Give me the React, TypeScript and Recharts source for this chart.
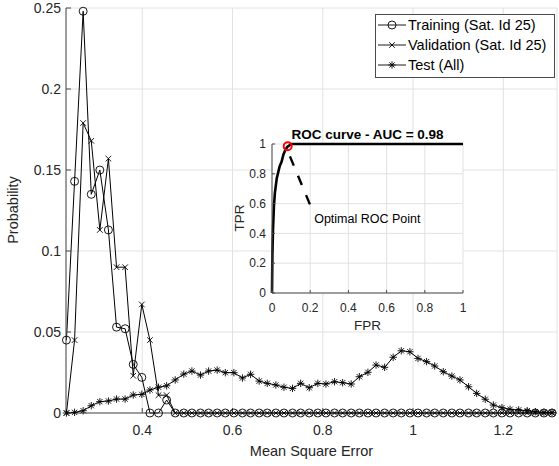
import React from "react";
import {
  LineChart,
  Line,
  XAxis,
  YAxis,
  CartesianGrid,
  Legend,
  Label,
  ReferenceLine,
  ReferenceDot,
  Customized,
} from "recharts";

// histogram bins (mean square error)
const mse = [
  0.232, 0.25, 0.269, 0.287, 0.306, 0.325, 0.343, 0.362, 0.38, 0.399,
  0.417, 0.436, 0.454, 0.473, 0.492, 0.51, 0.529, 0.547, 0.566, 0.584,
  0.603, 0.622, 0.64, 0.659, 0.677, 0.696, 0.714, 0.733, 0.751, 0.77,
  0.789, 0.807, 0.826, 0.844, 0.863, 0.881, 0.9, 0.918, 0.937, 0.956,
  0.974, 0.993, 1.011, 1.03, 1.048, 1.067, 1.086, 1.104, 1.123, 1.141,
  1.16, 1.178, 1.197, 1.215, 1.234, 1.253, 1.271, 1.29, 1.308,
];

const trainProb = [
  0.045, 0.143, 0.248, 0.135, 0.15, 0.113, 0.053, 0.052, 0.03, 0.022,
  0, 0, 0.008, 0, 0, 0, 0, 0, 0, 0,
  0, 0, 0, 0, 0, 0, 0, 0, 0, 0,
  0, 0, 0, 0, 0, 0, 0, 0, 0, 0,
  0, 0, 0, 0, 0, 0, 0, 0, 0, 0,
  0, 0, 0, 0, 0, 0, 0, 0, 0,
];

const valProb = [
  0, 0.045, 0.179, 0.168, 0.113, 0.157, 0.09, 0.09, 0.023, 0.067,
  0.045, 0.011, 0.011, 0, 0, 0, 0, 0, 0, 0,
  0, 0, 0, 0, 0, 0, 0, 0, 0, 0,
  0, 0, 0, 0, 0, 0, 0, 0, 0, 0,
  0, 0, 0, 0, 0, 0, 0, 0, 0, 0,
  0, 0, 0, 0, 0, 0, 0, 0, 0,
];

const testProb = [
  0, 0.0004, 0.0014, 0.0045, 0.007, 0.0074, 0.0086, 0.0086, 0.0111, 0.0115,
  0.0142, 0.0159, 0.0168, 0.0204, 0.024, 0.0259, 0.0234, 0.0259, 0.0265, 0.0249,
  0.0249, 0.0216, 0.0239, 0.0197, 0.0183, 0.0173, 0.0159, 0.0152, 0.0183, 0.0156,
  0.0183, 0.0179, 0.0193, 0.0187, 0.0179, 0.0224, 0.0251, 0.0296, 0.0282, 0.0344,
  0.0384, 0.0378, 0.0337, 0.0317, 0.029, 0.0255, 0.0228, 0.0204, 0.0162, 0.0121,
  0.0085, 0.0049, 0.0033, 0.0023, 0.0019, 0.0014, 0.0008, 0.0004, 0.0004,
];

const xTicks = [0.4, 0.6, 0.8, 1, 1.2];
const yTicks = [0, 0.05, 0.1, 0.15, 0.2, 0.25];
const xLimits = [0.231, 1.319];
const yLimits = [0, 0.25];

// ROC inset
const rocFpr = [0, 0.002, 0.005, 0.01, 0.015, 0.025, 0.04, 0.05, 0.06, 0.07, 0.08, 0.09, 0.1, 0.2, 0.4, 0.6, 0.8, 1];
const rocTpr = [0, 0.25, 0.42, 0.58, 0.67, 0.77, 0.85, 0.88, 0.93, 0.96, 0.98, 0.99, 1, 1, 1, 1, 1, 1];
const rocTicks = [0, 0.2, 0.4, 0.6, 0.8, 1];
const optimalFpr = 0.082;
const optimalTpr = 0.985;
const aucText = "ROC curve - AUC = 0.98";

const seriesNames = ["Training (Sat. Id 25)", "Validation (Sat. Id 25)", "Test (All)"];

const FONT = "'Liberation Sans', Arial, Helvetica, sans-serif";
const AXIS = "#4a4a4a";
const TEXT = "#262626";
const GRID = "#e2e2e2";

const rows = mse.map((m, i) => ({
  mse: m,
  train: trainProb[i],
  val: valProb[i],
  test: testProb[i],
}));

const rocRows = rocFpr.map((f, i) => ({ fpr: f, tpr: rocTpr[i] }));

function CircleMark({ cx, cy }: any) {
  if (cx == null || cy == null) return null;
  return <circle cx={cx} cy={cy} r={4} fill="none" stroke="#000" strokeWidth={0.9} />;
}

function CrossMark({ cx, cy }: any) {
  if (cx == null || cy == null) return null;
  const s = 2.8;
  return (
    <path
      d={`M${cx - s},${cy - s}L${cx + s},${cy + s}M${cx - s},${cy + s}L${cx + s},${cy - s}`}
      stroke="#000"
      strokeWidth={0.9}
      fill="none"
    />
  );
}

function StarMark({ cx, cy }: any) {
  if (cx == null || cy == null) return null;
  const s = 3.7;
  const d = s * 0.72;
  return (
    <path
      d={`M${cx - s},${cy}L${cx + s},${cy}M${cx},${cy - s}L${cx},${cy + s}` +
        `M${cx - d},${cy - d}L${cx + d},${cy + d}M${cx - d},${cy + d}L${cx + d},${cy - d}`}
      stroke="#000"
      strokeWidth={0.9}
      fill="none"
    />
  );
}

const marks = [CircleMark, CrossMark, StarMark];

function LegendBox() {
  return (
    <div
      style={{
        border: `1px solid ${AXIS}`,
        background: "#fff",
        paddingBottom: 2,
        fontFamily: FONT,
        fontSize: 14.5,
        color: "#000",
      }}
    >
      {seriesNames.map((name, i) => {
        const Mark = marks[i];
        return (
          <div key={name} style={{ display: "flex", alignItems: "center", height: 20 }}>
            <svg width={30} height={12} style={{ marginLeft: 2, flexShrink: 0 }}>
              <line x1={0} y1={6} x2={28} y2={6} stroke="#000" strokeWidth={0.9} />
              <Mark cx={14} cy={6} />
            </svg>
            <span style={{ whiteSpace: "nowrap", lineHeight: "20px" }}>{name}</span>
          </div>
        );
      })}
    </div>
  );
}

function RocTitle() {
  return (
    <text x={142.5} y={24} textAnchor="middle" fontFamily={FONT} fontSize={13.5} fontWeight="bold" fill="#000">
      {aucText}
    </text>
  );
}

export default function App() {
  return (
    <div style={{ position: "absolute", left: 0, top: 0, width: 559, height: 466, background: "#fff" }}>
      <LineChart
        width={559}
        height={466}
        data={rows}
        margin={{ top: 8, right: 2, bottom: 8, left: 8 }}
      >
        <CartesianGrid stroke={GRID} />
        <XAxis
          dataKey="mse"
          type="number"
          domain={xLimits}
          ticks={xTicks}
          height={45}
          tickSize={-5}
          tickMargin={17}
          stroke={AXIS}
          tick={{ fill: TEXT, fontSize: 14, fontFamily: FONT }}
        >
          <Label
            value="Mean Square Error"
            position="insideBottom"
            offset={2}
            style={{ fill: TEXT, fontSize: 14.5, fontFamily: FONT }}
          />
        </XAxis>
        <XAxis
          xAxisId="top"
          orientation="top"
          type="number"
          domain={xLimits}
          ticks={xTicks}
          height={0}
          tickSize={-5}
          tick={false}
          stroke={AXIS}
        />
        <YAxis
          type="number"
          domain={yLimits}
          ticks={yTicks}
          width={58}
          tickSize={-5}
          tickMargin={10}
          stroke={AXIS}
          tick={{ fill: TEXT, fontSize: 14, fontFamily: FONT }}
        >
          <Label
            content={() => (
              <text
                x={13}
                y={210}
                transform="rotate(-90 13 210)"
                textAnchor="middle"
                dominantBaseline="central"
                fill={TEXT}
                fontSize={14.5}
                fontFamily={FONT}
              >
                Probability
              </text>
            )}
          />
        </YAxis>
        <YAxis
          yAxisId="right"
          orientation="right"
          type="number"
          domain={yLimits}
          ticks={yTicks}
          width={0}
          tickSize={-5}
          tick={false}
          stroke={AXIS}
        />
        <Line
          dataKey="train"
          name={seriesNames[0]}
          type="linear"
          stroke="#000"
          strokeWidth={1}
          isAnimationActive={false}
          dot={(p: any) => <CircleMark key={`c${p.index}`} cx={p.cx} cy={p.cy} />}
        />
        <Line
          dataKey="val"
          name={seriesNames[1]}
          type="linear"
          stroke="#000"
          strokeWidth={1}
          isAnimationActive={false}
          dot={(p: any) => <CrossMark key={`x${p.index}`} cx={p.cx} cy={p.cy} />}
        />
        <Line
          dataKey="test"
          name={seriesNames[2]}
          type="linear"
          stroke="#000"
          strokeWidth={1}
          isAnimationActive={false}
          dot={(p: any) => <StarMark key={`s${p.index}`} cx={p.cx} cy={p.cy} />}
        />
        <Legend
          layout="vertical"
          align="center"
          verticalAlign="middle"
          wrapperStyle={{ left: 375, top: 14, width: 180 }}
          content={() => <LegendBox />}
        />
      </LineChart>

      <div style={{ position: "absolute", left: 225, top: 115 }}>
        <LineChart
          width={245}
          height={220}
          data={rocRows}
          margin={{ top: 29, right: 7, bottom: 0, left: 0 }}
        >
          <CartesianGrid stroke={GRID} fill="#fff" fillOpacity={1} />
          <XAxis
            dataKey="fpr"
            type="number"
            domain={[0, 1]}
            ticks={rocTicks}
            height={42}
            tickSize={-3}
            tickMargin={13}
            stroke={AXIS}
            tick={{ fill: TEXT, fontSize: 12, fontFamily: FONT }}
          >
            <Label
              value="FPR"
              position="insideBottom"
              offset={5}
              style={{ fill: TEXT, fontSize: 13.5, fontFamily: FONT }}
            />
          </XAxis>
          <XAxis
            xAxisId="top"
            orientation="top"
            type="number"
            domain={[0, 1]}
            ticks={rocTicks}
            height={0}
            tickSize={-3}
            tick={false}
            stroke={AXIS}
          />
          <YAxis
            type="number"
            domain={[0, 1]}
            ticks={rocTicks}
            width={47}
            tickSize={-3}
            tickMargin={9}
            stroke={AXIS}
            tick={{ fill: TEXT, fontSize: 12, fontFamily: FONT }}
          >
            <Label
              content={() => (
                <text
                  x={14}
                  y={103}
                  transform="rotate(-90 14 103)"
                  textAnchor="middle"
                  dominantBaseline="central"
                  fill={TEXT}
                  fontSize={13.5}
                  fontFamily={FONT}
                >
                  TPR
                </text>
              )}
            />
          </YAxis>
          <YAxis
            yAxisId="right"
            orientation="right"
            type="number"
            domain={[0, 1]}
            ticks={rocTicks}
            width={0}
            tickSize={-3}
            tick={false}
            stroke={AXIS}
            strokeWidth={1.2}
          />
          <Line
            dataKey="tpr"
            type="linear"
            stroke="#000"
            strokeWidth={2.6}
            dot={false}
            isAnimationActive={false}
          />
          <ReferenceLine
            segment={[
              { x: 0.094, y: 0.917 },
              { x: 0.2, y: 0.59 },
            ]}
            stroke="#000"
            strokeWidth={2.4}
            strokeDasharray="10 11"
          />
          <ReferenceDot
            x={optimalFpr}
            y={optimalTpr}
            r={4}
            fill="none"
            stroke="#ff0000"
            strokeWidth={2}
          />
          <ReferenceDot
            x={0.2}
            y={0.5}
            r={0}
            fill="none"
            stroke="none"
            label={{
              value: "Optimal ROC Point",
              position: "right",
              offset: 4,
              style: { fill: "#000", fontSize: 12.5, fontFamily: FONT },
            }}
          />
          <Customized component={<RocTitle />} />
        </LineChart>
      </div>
    </div>
  );
}
